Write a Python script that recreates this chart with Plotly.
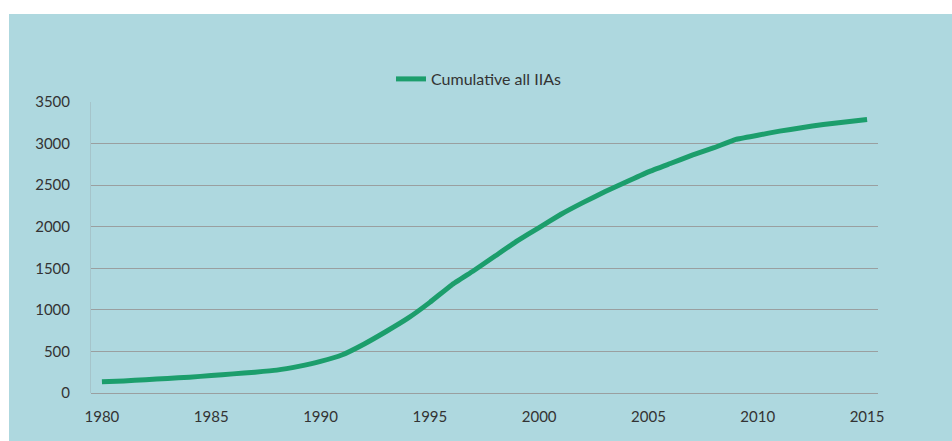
import plotly.graph_objects as go

years = list(range(1980, 2016))
cumulative_iias = [135, 145, 160, 175, 190, 210, 230, 250, 275, 320,
                   380, 460, 590, 740, 900, 1090, 1300, 1470, 1650, 1830,
                   1990, 2150, 2290, 2420, 2540, 2660, 2760, 2860, 2950, 3050,
                   3100, 3150, 3190, 3230, 3260, 3290]
series_name = "Cumulative all IIAs"
x_ticks = [1980, 1985, 1990, 1995, 2000, 2005, 2010, 2015]
y_ticks = [0, 500, 1000, 1500, 2000, 2500, 3000, 3500]

W, H = 952, 441
ml, mr, mt, mb = 91, 74, 102, 48
pw, ph = W - ml - mr, H - mt - mb

BG = "#AED8DF"
GREEN = "#1C9E6C"
GRID = "#9A9FA0"
FONT = "Lato, 'Open Sans', sans-serif"

fig = go.Figure()
fig.add_trace(go.Scatter(
    x=years, y=cumulative_iias, mode="lines", name=series_name,
    line=dict(color=GREEN, width=5, shape="spline", smoothing=0.3),
))

# light-blue panel leaving a white strip at the top and left
fig.add_shape(type="rect", xref="paper", yref="paper", layer="below",
              x0=(9 - ml) / pw, x1=(W - ml) / pw,
              y0=-mb / ph, y1=(H - 14 - mb) / ph,
              fillcolor=BG, line=dict(width=0))

fig.update_layout(
    width=W, height=H,
    margin=dict(l=ml, r=mr, t=mt, b=mb),
    paper_bgcolor="white", plot_bgcolor="rgba(0,0,0,0)",
    font=dict(family=FONT, size=15, color="#333333"),
    showlegend=True,
    legend=dict(orientation="h", x=(391 - ml) / pw, xanchor="left",
                y=(H - 79 - mb) / ph, yanchor="middle",
                bgcolor="rgba(0,0,0,0)", font=dict(size=16, color="#333333"),
                itemwidth=30),
    xaxis=dict(range=[1979.5, 2015.5], tickmode="array", tickvals=x_ticks,
               showgrid=False, zeroline=False, showline=False,
               ticks="", ticklabelstandoff=13, fixedrange=True),
    yaxis=dict(range=[0, 3500], tickmode="array", tickvals=y_ticks,
               showgrid=True, gridcolor=GRID, gridwidth=1,
               zeroline=True, zerolinecolor=GRID, zerolinewidth=1,
               showline=True, linecolor="#A5C4CA", linewidth=1,
               ticks="", ticklabelstandoff=17, fixedrange=True),
)

fig.write_html("out.html")
